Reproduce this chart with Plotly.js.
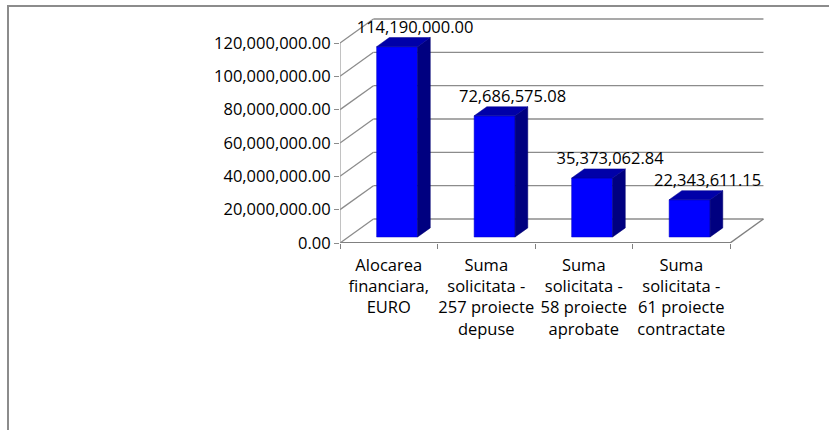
<!DOCTYPE html>
<html>
<head>
<meta charset="utf-8">
<script src="https://cdn.plot.ly/plotly-3.0.1.min.js"></script>
<style>
  html, body { margin: 0; padding: 0; background: #ffffff; }
  #chart { width: 829px; height: 430px; }
</style>
</head>
<body>
<div id="chart"></div>
<script>
// ---- data ----
const categories = [
  'Alocarea<br>financiara,<br>EURO',
  'Suma<br>solicitata -<br>257 proiecte<br>depuse',
  'Suma<br>solicitata -<br>58 proiecte<br>aprobate',
  'Suma<br>solicitata -<br>61 proiecte<br>contractate'
];
const values = [114190000.00, 72686575.08, 35373062.84, 22343611.15];
const valueLabels = ['114,190,000.00', '72,686,575.08', '35,373,062.84', '22,343,611.15'];
const yTicks = [0, 20000000, 40000000, 60000000, 80000000, 100000000, 120000000];

// ---- 3D projection parameters (in axis units) ----
const nCat = categories.length;
const DX = 0.343;        // depth offset along x (categories)
const DY = 14400000;     // depth offset along y (value units)
const F0 = 0.25;         // bar front position in depth
const FD = 0.38;         // bar depth fraction
const BW = 0.42;         // bar width (category units)
const FONT = 'Open Sans, Noto Sans, sans-serif';
const GRID = '#8c8c8c';

const centers = categories.map((_, i) => i + 0.5);
const barX = centers.map(c => c + F0 * DX);
const base = F0 * DY;

// side & top faces
const sideX = [], sideY = [], topX = [], topY = [];
values.forEach((v, i) => {
  const xl = barX[i] - BW / 2, xr = barX[i] + BW / 2;
  const yb = base, yt = base + v;
  const ddx = FD * DX, ddy = FD * DY;
  sideX.push(xr, xr, xr + ddx, xr + ddx, xr, null);
  sideY.push(yb, yt, yt + ddy, yb + ddy, yb, null);
  topX.push(xl, xl + ddx, xr + ddx, xr, xl, null);
  topY.push(yt, yt + ddy, yt + ddy, yt, yt, null);
});

// walls / grid as shapes beneath the traces
const shapes = [];
yTicks.forEach(v => {
  shapes.push({type: 'line', xref: 'x', yref: 'y', layer: 'below',
    x0: 0, y0: v, x1: DX, y1: v + DY, line: {color: GRID, width: 1.3}});
  shapes.push({type: 'line', xref: 'x', yref: 'y', layer: 'below',
    x0: DX, y0: v + DY, x1: nCat + DX, y1: v + DY, line: {color: GRID, width: 1.3}});
});
// floor front edge and right edge
shapes.push({type: 'line', xref: 'x', yref: 'y', layer: 'below',
  x0: 0, y0: 0, x1: nCat, y1: 0, line: {color: '#808080', width: 2}});
shapes.push({type: 'line', xref: 'x', yref: 'y', layer: 'below',
  x0: nCat, y0: 0, x1: nCat + DX, y1: DY, line: {color: '#808080', width: 1.5}});
// front vertical axis line
shapes.push({type: 'line', xref: 'x', yref: 'y', layer: 'below',
  x0: 0, y0: 0, x1: 0, y1: yTicks[yTicks.length - 1], line: {color: '#999999', width: 1.2}});

// outer chart border
const L = 340, R = 60, T = 15, B = 187, W = 829 - L - R, H = 430 - T - B;
shapes.push({type: 'rect', xref: 'paper', yref: 'paper', layer: 'below',
  x0: (8 - L) / W, x1: (840 - L) / W, y0: (243 - 440) / H, y1: (243 - 6) / H,
  line: {color: '#8c8c8c', width: 2}, fillcolor: 'rgba(0,0,0,0)'});

const traces = [
  {type: 'bar', x: barX, y: values, base: base, width: BW,
   marker: {color: '#0000ff', line: {color: '#0000c0', width: 0.5}},
   hoverinfo: 'skip', showlegend: false},
  {type: 'scatter', mode: 'lines', x: sideX, y: sideY, fill: 'toself',
   fillcolor: '#000080', line: {color: '#000070', width: 0.5},
   hoverinfo: 'skip', showlegend: false},
  {type: 'scatter', mode: 'lines', x: topX, y: topY, fill: 'toself',
   fillcolor: '#0000a8', line: {color: '#000090', width: 0.5},
   hoverinfo: 'skip', showlegend: false},
  {type: 'scatter', mode: 'text', x: centers.map(c => c + 0.27),
   y: values.map(v => v + 14500000), text: valueLabels,
   textposition: 'middle center', cliponaxis: false,
   textfont: {family: FONT, size: 16.5, color: '#000000'},
   hoverinfo: 'skip', showlegend: false}
];

const layout = {
  width: 829, height: 430,
  margin: {l: L, r: R, t: T, b: B, pad: 0},
  paper_bgcolor: '#ffffff', plot_bgcolor: 'rgba(0,0,0,0)',
  font: {family: FONT, size: 16.5, color: '#000000'},
  showlegend: false,
  xaxis: {
    range: [0, 4.4], showgrid: false, zeroline: false, showline: false,
    tickmode: 'array', tickvals: centers, ticktext: categories, ticks: '',
    ticklabelstandoff: 10,
    minor: {tickmode: 'array', tickvals: [0, 1, 2, 3, 4], ticks: 'outside',
            ticklen: 5, tickcolor: '#808080', tickwidth: 1, showgrid: false},
    tickfont: {family: FONT, size: 16.5, color: '#000000'},
    fixedrange: true
  },
  yaxis: {
    range: [0, 136800000], showgrid: false, zeroline: false, showline: false,
    tickmode: 'array', tickvals: yTicks, tickformat: ',.2f',
    ticks: 'outside', ticklen: 5, tickcolor: '#8c8c8c', tickwidth: 1,
    tickfont: {family: FONT, size: 16.5, color: '#000000'},
    fixedrange: true
  },
  shapes: shapes
};

Plotly.newPlot('chart', traces, layout, {displayModeBar: false, staticPlot: true});
</script>
</body>
</html>
